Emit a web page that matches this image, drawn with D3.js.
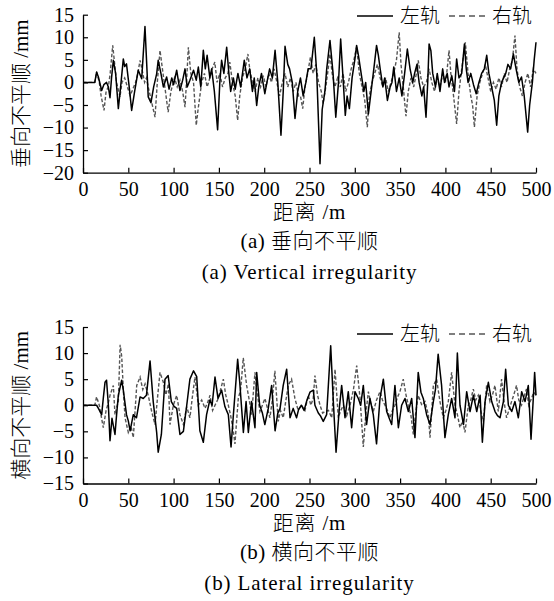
<!DOCTYPE html>
<html>
<head>
<meta charset="utf-8">
<script src="https://cdn.jsdelivr.net/npm/d3@7"></script>
<style>
  body { margin: 0; background: #fff; }
  svg text { font-family: "Liberation Serif", "Noto Sans CJK SC", serif; fill: #000; font-weight: 300; }
</style>
</head>
<body>
<div id="chart"></div>
<script>
// Distance (m), irregularity (mm) knots
const vertLeft = [[0,0],[13,0],[15,2.3],[17,1.2],[20.6,-1.8],[23,-0.5],[26,0],[28,-1],[29.8,-3.4],[31.5,1],[33.5,4.9],[36,2],[39,-5.8],[41.5,-1],[44.5,5.2],[46,3.5],[48,4.1],[51,-1],[53.7,-6.2],[57,-2],[61,2.7],[64.8,0.8],[68.4,12.4],[72,-3.2],[75,-4.5],[78,-1],[81.3,1.9],[83,4.9],[86,2],[88.7,-1],[92.3,1.2],[95,-1.5],[98,1],[100,-0.5],[103.4,2.7],[107,-1.8],[110,0.5],[112.6,3],[115,-1],[118,0.5],[122,2.7],[125,0.5],[127.3,3.4],[130,-1],[132.8,7.1],[135,3],[137,6],[140,1],[142,3],[145,-2],[148.6,-10.5],[151,0],[153,4.9],[155.5,2],[158.6,7.8],[161,2],[163,-2],[166,1],[168,-1.5],[171,2],[174,-1],[178,4.9],[181,1],[184,3],[187,-2],[189,1],[191.7,-5.1],[194,-1],[197,2],[200.7,-2.5],[203,0],[206,3],[209,1],[212,7.1],[215,0],[218.5,-11.7],[221,-2],[223,8],[226,4],[228,3],[231,0],[234,-8],[237,-2],[240,1],[243,-3],[246,0],[248.5,3],[251.6,3],[255.3,10],[258,2],[261.6,-18],[264,-6],[267,-2],[269,3],[272.6,9.3],[276,2],[279,-7.7],[282,0],[284.4,9.6],[287,1],[289.5,-7.3],[291.5,-3],[294,-5.8],[297,1],[300,5],[302,8.2],[304,6],[307,2],[310,-2],[312,0],[315,-7],[318,-2],[321,3],[324,8.2],[326,6],[328,3],[331,-1],[333,1],[336,-4],[339,-1],[341,0],[343,3.4],[346,-2],[349,1],[352,-3],[355,2],[358,7.4],[361,3],[364,0],[366,2],[368.6,4],[371,0],[374,-3],[376,-1],[378.6,-7.7],[380.5,0],[382,8.5],[384,7],[386,2],[389,-1],[391,2],[394,-2],[397,3],[399,0],[402,2],[404,-1],[407,1.5],[410,-2],[412.4,5.2],[415,1],[418,2],[421,8.5],[423,3],[425,0],[428,2],[431,-0.5],[434,-2.5],[437,0],[440,2],[443,3],[445.6,6],[448,2],[451,-1],[454,-4],[456.6,-9.5],[459,-3],[462,0],[466.6,2],[469,4],[472,3],[475,6.3],[478,3],[481,0],[484,1.2],[487,-3],[490.8,-11],[493,-5],[496,0],[498,5],[500,8.9]];

const vertRight = [[0,0],[13,0],[15,2.3],[18,0],[20,-3],[23.2,-6.2],[25.5,-2],[28,-1],[30,2],[32.8,8.2],[35,4],[37,0],[40.8,-3.2],[43,0],[46,1],[49,-1],[52,-2.9],[55,-1.5],[58,0],[60.5,2],[63,4.9],[65,3],[68,0],[70,1],[72,-1],[75.8,-4.4],[79.5,-7.7],[82,0],[85,7.1],[87,4],[89,1],[91,-2],[94,-6.6],[97,-2],[99,-0.5],[101,1],[104,-1],[107,0.5],[110,-2],[112.6,-5.5],[114.5,1],[116.3,7.8],[119,2],[122,0],[125,-9.5],[127,-6],[129,-3],[131,0],[134,2],[137,-1],[140,1],[142.5,3],[145.5,4.5],[148,0],[151,2],[154,-1],[157,1],[160,2],[162,4.5],[165,0],[168,-3],[170.7,-8.4],[173,-3],[176,1],[179,3],[182,6.3],[184,3],[187,0],[190,-2],[193,1],[196,-1],[199,1.5],[202,-1],[205,2],[208,0],[211,3],[214,0],[217,-3],[220,0],[223,2],[226,-1],[229,1],[232,-2],[235,0],[238,-3],[240,-3],[242.5,-5.8],[245,-1],[248,2],[251,5.6],[254,2],[257,4],[260,0],[263,-2],[265,-4.7],[268,-1],[270,2],[272.6,6.3],[275,2],[278,-1],[281,1],[284,-1],[287,2],[290,-2],[293,0],[296,3],[299,5],[302,7.8],[305,2],[308,-1],[311,-4],[313.8,-9.9],[316,-3],[319,0],[322,2],[325,4],[328,1],[331,-1],[334,1],[337,-2],[340,0],[343,2],[346,5],[349,11.1],[351,4],[353,0],[356.5,-7.5],[359,-2],[362,1],[365,-1],[368,2],[370,4.9],[373,1],[376,-1],[379,0],[382,3],[385,0],[388,-2],[391,1],[394,-1],[397,2],[400,0],[402,3],[404,7.1],[406,2],[409,-3],[412.4,-9.2],[415,-2],[418,3],[420,6],[422,8.9],[425,2],[428,-3],[430,-5],[432,-9.9],[435,-3],[438,0],[441,2],[444,4],[447,1],[450,-2],[453,0],[456,-1.5],[459,1],[462,-1],[465,2],[468,0],[471,3],[474,5],[476.8,10.4],[479,3],[482,-1],[485,-3],[488,0],[491,2],[494,-1],[497,3],[500,2]];

const latLeft = [[0,0],[15,0],[17,-0.6],[20.6,-1.8],[22.5,1.5],[24.3,4.4],[26,4.8],[28,0],[29.8,-6.8],[32,-2.5],[35.3,-5.6],[37,-2],[39,1.9],[42.7,4.8],[44.5,2.9],[48,-1.8],[50,-3],[52,-4.9],[55.5,-1.8],[59,-2.4],[63,1.6],[66.5,1.3],[70,1.9],[74,8.5],[77.5,0.7],[81.3,-5.2],[83,-9],[86.5,-5.6],[90.5,5],[94,5.7],[97.5,0.7],[100.5,-0.2],[103.4,-0.6],[107,-5.6],[110.8,-5],[114.5,0],[118,5],[122,6.6],[125.5,5.5],[129,-4.9],[132.8,-7.1],[136.4,-1.8],[140,1],[142.5,0],[145.7,5.4],[149,1.3],[153,2.9],[156.7,-0.3],[160.4,-1.8],[163.4,-8],[166,-1.8],[170.7,8.8],[173,4.4],[177,-5.2],[180,0.7],[182.5,-5.2],[186,0.7],[189.8,-4.3],[191.7,6.3],[195,0],[198,-1.5],[200.7,-3.7],[204.5,-0.6],[208.2,3.8],[212,-4.9],[215,-1.5],[217.5,-0.6],[221,3.8],[224.8,6.9],[228.5,-2.4],[232,-0.6],[235.7,-2.4],[238,-0.8],[241,0],[244,-1],[246.7,0.7],[250.5,2.5],[254.2,2.9],[256,0],[259.7,-1.5],[262,-2],[265.2,-3.1],[268.9,-1.8],[273.4,11.4],[276.3,0.7],[279.3,-9],[282.9,-0.6],[285.5,3.8],[289.2,-2.4],[292.8,2.6],[296.5,-4.3],[300.2,2.6],[303.9,1.3],[306.5,0],[309.4,3.8],[313,-3.7],[316.7,1.3],[320.4,-1.8],[324,-7.4],[327.8,1.3],[331.5,5],[335.2,-1.2],[338,-2.5],[340.7,-3.7],[344.3,3.8],[348.1,-4.3],[351.7,0],[355.4,1.3],[359.1,-1.2],[362.8,1.3],[366.4,-6.2],[370,6.3],[373,2.5],[375.6,1.3],[379.3,-1.8],[383,-3.7],[386.7,0.7],[389,3],[392,9.8],[395.8,3.8],[399.5,-6.2],[403.2,-1.8],[406.9,1.3],[410.6,-2.4],[413.2,10],[416.1,0],[420,-3.7],[423.5,2.6],[427.2,-1.2],[430.9,1.9],[434.6,-1.2],[438.3,1.9],[440.8,-7.1],[443.8,0.7],[447.4,4.4],[451.1,0.7],[454.8,-1.2],[457.5,-2],[460.3,-2.4],[464,0.7],[466.5,6.9],[469.5,0],[473.2,-1.2],[476.8,0.7],[480.5,-2.4],[484.2,2.6],[487.9,0.7],[491.5,3.8],[494.5,-6.5],[497,1.3],[498.5,6.3],[500,1.9]];

const latRight = [[0,0],[13,0],[15,1.6],[18,0],[20,-2],[22.4,-4.3],[25.5,-1],[28,0.5],[29.8,1.9],[33.5,3.8],[35.3,-1.8],[37,-0.5],[39,0.7],[41,11.6],[42.7,9.4],[44.5,3],[46.4,-2.4],[50,-5.2],[53,-4],[55.5,-6.2],[57.5,-1],[59.3,3.8],[63,5.4],[66,3],[68.5,4.1],[72,1.9],[75.8,-1.2],[79.5,-3.7],[82,1],[85,6.3],[88.7,4.4],[91.5,2],[94.3,4.1],[96,-3.7],[99.7,0],[103.4,1.9],[107,-1.8],[110.8,-3.7],[114.5,-0.3],[118,-2.4],[121,2],[123.6,5.4],[127.3,0],[131,1],[134.7,-0.6],[137.5,0.5],[140.2,1.9],[143,-1],[145.7,0],[148.5,1],[151.2,2.6],[154.9,5],[157.5,2],[160.4,0],[163,-2],[165.9,-4.9],[167.7,-7.4],[171.4,1.3],[174,3],[176.9,9.1],[180.6,3.8],[183.5,1],[186.1,-1.8],[189.8,6.3],[192.5,2],[195.3,-1.2],[198,0],[200.8,1.3],[203.5,-0.5],[206.3,-2.4],[209,1],[211.8,6.6],[215.5,-3.1],[218,-1],[221,-2.4],[224,1],[226.5,3.8],[230.2,5],[233.9,1.3],[237.5,-1],[241.2,0],[245,-1],[248.6,1.9],[251.5,0],[254.1,1.3],[256,5.7],[258.8,2],[261.6,0],[264.5,-1.5],[267.1,-1.2],[271,-1],[274.5,-2.4],[278.2,6.9],[281.8,-2.4],[284.5,-1],[287.4,0],[291,-2],[294.7,0],[298.5,3],[302.1,7.6],[305.8,1.3],[309.4,-8],[312,-2],[315,2.6],[317.5,0.5],[320.4,-1.2],[324,1],[327.8,2.6],[330.5,1],[333.3,0],[336,-1],[338.8,-2.4],[341.5,-1],[344.3,0],[347,1.5],[349.8,2.6],[353.5,5],[356.5,2],[359.1,0],[362,-2],[364.6,-5.6],[367.5,-1],[370.1,1.9],[374,0],[377.5,0.7],[381.2,-1.8],[383,-6.2],[386.7,3.8],[390.3,5],[394,0.7],[397.7,-2.4],[400.5,-1],[403.2,0.7],[406.9,6.3],[410.6,0],[413.5,-2],[416.1,-4.3],[419,-3],[421.6,-5.2],[425.3,0],[428,1],[430.8,3.1],[433.5,1],[436.3,1.9],[439,-1],[441.8,-3.1],[445.5,3.8],[449.2,0.7],[452,2],[454.7,3.8],[458.4,-1.2],[462,5],[464.5,1],[467.5,-2.4],[470,-1],[473,0.7],[475.5,2],[478.5,3.8],[481,1],[484,0],[486.5,1.5],[489.5,3.1],[492,0],[495,1.3],[497.5,2.5],[500,1.9]];

const xTicks = [0, 50, 100, 150, 200, 250, 300, 350, 400, 450, 500];
const vertTicks = [15, 10, 5, 0, -5, -10, -15, -20];
const latTicks = [15, 10, 5, 0, -5, -10, -15];
const legendNames = ["左轨", "右轨"];

const width = 554, height = 601;
const fontSize = 20;
const dashColor = "#555";

const svg = d3.select("#chart").append("svg")
  .attr("width", width)
  .attr("height", height);

const x = d3.scaleLinear().domain([0, 500]).range([83, 536]);
const fmt = d3.format("");

function panel(cfg) {
  const y = d3.scaleLinear().domain(cfg.yDomain).range(cfg.yRange);
  const g = svg.append("g");
  const axisY = y.range()[0];

  const line = d3.line().x(d => x(d[0])).y(d => y(d[1]));

  // right rail (dashed) under left rail
  g.append("path")
    .datum(cfg.right)
    .attr("fill", "none")
    .attr("stroke", dashColor)
    .attr("stroke-width", 1.4)
    .attr("stroke-dasharray", "3.5,2")
    .attr("d", line);

  g.append("path")
    .datum(cfg.left)
    .attr("fill", "none")
    .attr("stroke", "#000")
    .attr("stroke-width", 1.5)
    .attr("stroke-linejoin", "round")
    .attr("d", line);

  // axes with inward ticks
  const gx = g.append("g")
    .attr("transform", `translate(0,${axisY})`)
    .call(d3.axisBottom(x).tickValues(xTicks).tickFormat(fmt)
      .tickSizeInner(-5).tickSizeOuter(0).tickPadding(9));
  const gy = g.append("g")
    .attr("transform", `translate(${x.range()[0]},0)`)
    .call(d3.axisLeft(y).tickValues(cfg.ticks).tickFormat(fmt)
      .tickSizeInner(-5).tickSizeOuter(0).tickPadding(9));

  [gx, gy].forEach(a => {
    a.attr("font-family", null).attr("font-size", fontSize);
    a.select(".domain").attr("stroke-width", 1.3);
    a.selectAll(".tick line").attr("stroke-width", 1.2);
  });

  // y label
  const yMid = (cfg.yRange[0] + cfg.yRange[1]) / 2;
  g.append("text")
    .attr("transform", `translate(20,${yMid}) rotate(-90)`)
    .attr("text-anchor", "middle")
    .attr("dy", "0.36em")
    .attr("font-size", 21)
    .text(cfg.yLabel);

  const cx = (x.range()[0] + x.range()[1]) / 2;
  g.append("text").attr("x", cx).attr("y", axisY + 46.5)
    .attr("text-anchor", "middle").attr("font-size", 21)
    .attr("letter-spacing", 0.8).text("距离 /m");
  g.append("text").attr("x", cx).attr("y", axisY + 75.5)
    .attr("text-anchor", "middle").attr("font-size", 21)
    .attr("letter-spacing", 0.5).text(cfg.cnTitle);
  g.append("text").attr("x", cx).attr("y", axisY + 106.5)
    .attr("text-anchor", "middle").attr("font-size", 21)
    .attr("letter-spacing", 0.9).text(cfg.enTitle);

  // legend
  const ly = cfg.legendY;
  const leg = g.append("g");
  leg.append("line").attr("x1", 357).attr("x2", 393).attr("y1", ly).attr("y2", ly)
    .attr("stroke", "#000").attr("stroke-width", 1.5);
  leg.append("text").attr("x", 400).attr("y", ly).attr("dy", "0.36em")
    .attr("font-size", fontSize).text(legendNames[0]);
  leg.append("line").attr("x1", 449).attr("x2", 487).attr("y1", ly).attr("y2", ly)
    .attr("stroke", dashColor).attr("stroke-width", 1.4).attr("stroke-dasharray", "6,4");
  leg.append("text").attr("x", 492).attr("y", ly).attr("dy", "0.36em")
    .attr("font-size", fontSize).text(legendNames[1]);
}

panel({
  left: vertLeft, right: vertRight,
  yDomain: [-20, 15], yRange: [172.7, 14.7], ticks: vertTicks,
  yLabel: "垂向不平顺 /mm",
  cnTitle: "(a) 垂向不平顺",
  enTitle: "(a) Vertical irregularity",
  legendY: 16
});

panel({
  left: latLeft, right: latRight,
  yDomain: [-15, 15], yRange: [483.5, 327], ticks: latTicks,
  yLabel: "横向不平顺 /mm",
  cnTitle: "(b) 横向不平顺",
  enTitle: "(b) Lateral irregularity",
  legendY: 334
});
</script>
</body>
</html>
